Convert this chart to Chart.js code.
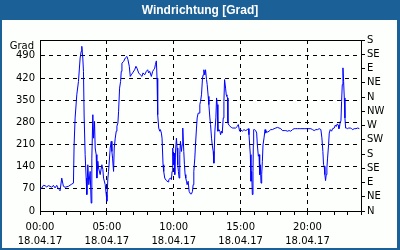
<!DOCTYPE html>
<html><head><meta charset="utf-8">
<script src="https://cdn.jsdelivr.net/npm/chart.js@4"></script>
<style>html,body{margin:0;padding:0;background:#fff;overflow:hidden}#wrap{width:400px;height:250px;position:relative}</style>
</head><body><div id="wrap"><canvas id="c" width="400" height="250"></canvas></div>
<script>
const titleText = 'Windrichtung [Grad]';
const unitLabel = 'Grad';
const dateLabel = '18.04.17';
const timeLabels = {0:'00:00',5:'05:00',10:'10:00',15:'15:00',20:'20:00'};
const hourTicks = [0,1,2,3,4,5,6,7,8,9,10,11,12,13,14,15,16,17,18,19,20,21,22,23,24];
const majorHours = [5,10,15,20];
const degreeTicks = [0,70,140,210,280,350,420,490];
const compassTicks = [0,45,90,135,180,225,270,315,360,405,450,495,540];
const compassLabels = ['N','NE','E','SE','S','SW','W','NW','N','NE','E','SE','S'];

const hours = [0.0,0.125,0.25,0.375,0.5,0.625,0.75,0.875,1.0,1.125,1.25,1.375,1.45,1.5,1.625,1.75,1.875,2.125,2.375,2.5,2.55,2.625,2.75,2.875,3.0,3.075,3.125,3.2,3.25,3.3,3.375,3.45,3.5,3.575,3.65,3.75,3.825,3.875,3.95,4.0,4.075,4.125,4.2,4.25,4.325,4.375,4.5,4.625,4.7,4.75,4.875,4.95,5.0,5.075,5.125,5.25,5.325,5.375,5.425,5.5,5.55,5.625,5.7,5.75,5.825,5.875,5.95,6.025,6.075,6.125,6.25,6.375,6.5,6.575,6.675,6.75,6.825,6.925,7.075,7.175,7.25,7.375,7.5,7.625,7.7,7.825,7.95,8.05,8.125,8.2,8.325,8.425,8.5,8.575,8.625,8.7,8.75,8.8,8.875,8.95,9.0,9.075,9.125,9.2,9.25,9.325,9.45,9.575,9.625,9.75,9.825,9.875,9.925,9.975,10.025,10.075,10.125,10.2,10.25,10.3,10.35,10.4,10.45,10.5,10.575,10.625,10.675,10.75,10.8,10.85,10.9,10.95,11.0,11.075,11.15,11.25,11.325,11.4,11.45,11.5,11.575,11.625,11.7,11.75,11.825,11.9,11.95,12.0,12.075,12.15,12.2,12.25,12.325,12.375,12.45,12.5,12.575,12.625,12.7,12.75,12.825,12.875,12.95,13.0,13.075,13.15,13.2,13.25,13.3,13.375,13.45,13.5,13.575,13.625,13.7,13.75,13.8,13.875,13.925,13.975,14.025,14.05,14.125,14.2,14.3,14.4,14.5,14.625,14.75,14.825,14.925,15.0,15.125,15.25,15.375,15.5,15.575,15.625,15.675,15.725,15.775,15.825,15.875,15.925,15.95,15.975,16.05,16.125,16.2,16.25,16.325,16.375,16.425,16.475,16.525,16.575,16.625,16.675,16.75,16.825,16.875,16.95,17.025,17.125,17.25,17.375,17.5,17.625,17.75,17.875,18.0,18.125,18.25,18.375,18.5,18.625,18.75,18.875,19.0,19.125,19.25,19.375,19.5,19.75,20.0,20.25,20.375,20.5,20.625,20.75,20.875,21.0,21.075,21.15,21.2,21.25,21.3,21.35,21.4,21.45,21.5,21.575,21.625,21.7,21.8,21.875,22.0,22.075,22.15,22.225,22.3,22.35,22.4,22.45,22.5,22.55,22.6,22.65,22.7,22.75,22.8,22.85,22.9,23.0,23.075,23.2,23.3,23.375,23.5,23.625,23.75,23.875];
const directions = [70,72,81,80,76,80,78,75,81,73,81,70,67,64,104,78,75,78,85,88,209,294,367,409,483,504,520,483,441,300,178,104,52,146,83,125,25,167,304,230,283,199,178,104,157,136,115,146,131,104,83,52,31,104,125,199,220,188,167,125,199,230,252,268,278,315,388,409,441,467,472,483,488,478,457,425,430,436,446,457,451,436,430,425,436,430,441,446,436,441,425,441,446,451,462,474,420,304,262,252,257,246,230,146,125,104,96,92,99,104,99,125,199,146,183,115,183,230,199,146,125,104,178,220,188,209,262,188,146,115,104,94,83,94,62,54,54,62,83,125,167,209,262,294,309,309,336,346,367,420,430,446,430,446,415,399,362,336,294,273,230,209,188,151,252,294,357,336,252,257,252,241,252,246,294,346,415,388,367,362,357,278,271,268,264,262,262,262,267,273,252,257,252,257,254,257,260,241,209,178,94,125,52,125,209,257,257,254,246,209,173,178,115,146,88,115,157,209,231,257,246,252,249,252,257,257,260,262,264,262,260,254,254,254,252,254,252,257,260,260,260,260,260,260,260,260,257,254,257,257,260,257,231,188,146,141,115,96,115,136,167,209,246,257,252,260,262,271,267,275,271,260,267,283,285,346,399,452,409,357,294,262,262,260,262,262,260,257,260,260,262,260];

const FONT = 'DejaVu Sans';
const frameBlue = '#1b6096';

const framePlugin = {
  id: 'frame',
  beforeDraw(chart) {
    const ctx = chart.ctx;
    ctx.save();
    ctx.fillStyle = frameBlue;
    ctx.fillRect(0, 0, 400, 250);
    ctx.fillStyle = '#fcfffc';
    ctx.fillRect(2, 20, 395, 228);
    ctx.restore();
  },
  afterDraw(chart) {
    const ctx = chart.ctx;
    const a = chart.chartArea;
    ctx.save();
    ctx.strokeStyle = '#000';
    ctx.lineWidth = 1;
    ctx.beginPath();
    ctx.moveTo(a.left, Math.round(a.top) + 0.5);
    ctx.lineTo(a.right + 1, Math.round(a.top) + 0.5);
    ctx.stroke();
    ctx.fillStyle = '#000';
    ctx.font = '10px "' + FONT + '"';
    ctx.textAlign = 'right';
    ctx.textBaseline = 'middle';
    ctx.fillText(unitLabel, 34, a.top + 6);
    ctx.restore();
  }
};

new Chart(document.getElementById('c'), {
  type: 'line',
  data: {
    datasets: [{
      data: hours.map((h, i) => ({x: h, y: directions[i]})),
      borderColor: '#0000ff',
      borderWidth: 1,
      pointRadius: 0,
      tension: 0,
      fill: false,
      xAxisID: 'x',
      yAxisID: 'y'
    }]
  },
  options: {
    responsive: false,
    animation: false,
    devicePixelRatio: 1,
    layout: {padding: {left: 0, right: 0, top: 0, bottom: 0}},
    plugins: {
      legend: {display: false},
      tooltip: {enabled: false},
      title: {
        display: true,
        text: titleText,
        color: '#ffffff',
        font: {family: 'Liberation Sans', size: 12, weight: 'bold', lineHeight: 1.2},
        padding: {top: 3, bottom: 22.6}
      }
    },
    scales: {
      x: {
        type: 'linear', min: 0, max: 24, position: 'bottom',
        afterBuildTicks: s => { s.ticks = hourTicks.map(v => ({value: v})); },
        afterFit: s => { s.height = 39; },
        ticks: {
          autoSkip: false, maxRotation: 0, minRotation: 0, padding: 5, color: '#000',
          font: {family: FONT, size: 10, lineHeight: 1.4},
          callback: v => timeLabels[v] ? [timeLabels[v], dateLabel] : ''
        },
        grid: {
          color: c => (c.tick && majorHours.includes(c.tick.value)) ? '#000' : 'rgba(0,0,0,0)',
          tickColor: '#000', tickLength: 4, lineWidth: 1, drawTicks: true
        },
        border: {display: true, color: '#000', width: 1, dash: [4, 4]}
      },
      y: {
        type: 'linear', min: 0, max: 540, position: 'left',
        afterBuildTicks: s => { s.ticks = degreeTicks.map(v => ({value: v})); },
        afterFit: s => { s.width = 40; },
        ticks: {autoSkip: false, padding: 5, color: '#000', font: {family: FONT, size: 10}},
        grid: {
          drawTicks: false,
          color: c => (c.tick && c.tick.value > 0) ? '#000' : 'rgba(0,0,0,0)',
          lineWidth: 1
        },
        border: {display: true, color: '#000', width: 1, dash: [4, 4]}
      },
      y2: {
        type: 'linear', min: 0, max: 540, position: 'right',
        afterBuildTicks: s => { s.ticks = compassTicks.map(v => ({value: v})); },
        afterFit: s => { s.width = 39; },
        ticks: {
          autoSkip: false, padding: 2, color: '#000', font: {family: FONT, size: 10},
          callback: v => compassLabels[compassTicks.indexOf(v)]
        },
        grid: {drawOnChartArea: false, drawTicks: true, tickLength: 4, color: '#000', tickColor: '#000'},
        border: {display: true, color: '#000', width: 1}
      }
    }
  },
  plugins: [framePlugin]
});
</script>
</body></html>
